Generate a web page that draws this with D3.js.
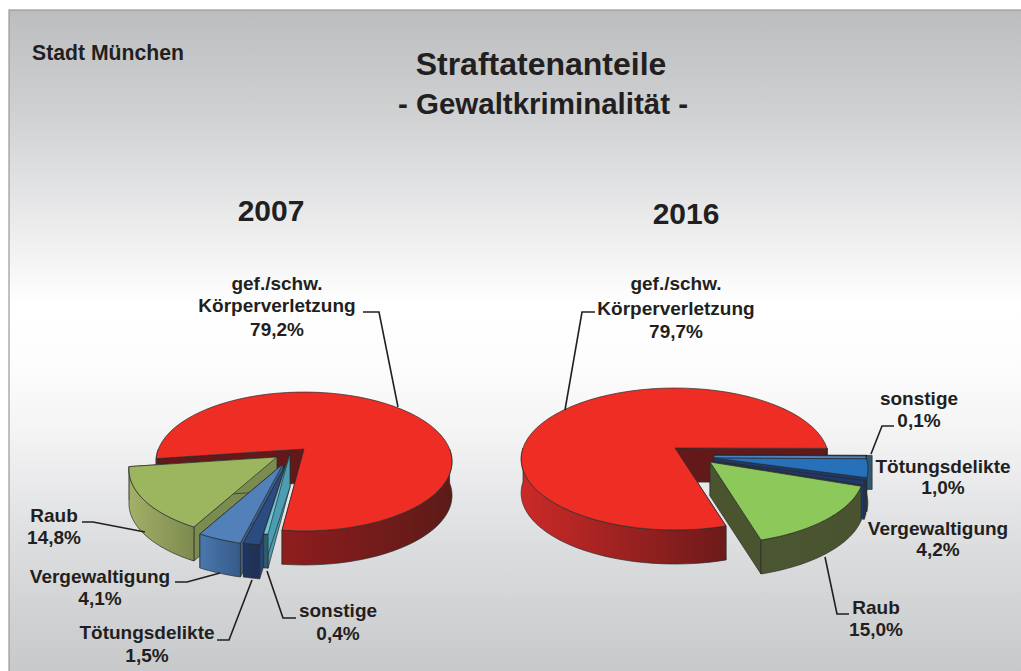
<!DOCTYPE html>
<html>
<head>
<meta charset="utf-8">
<script src="https://d3js.org/d3.v7.min.js"></script>
<style>
  html, body { margin: 0; padding: 0; background: #fff; }
  text { font-family: "Liberation Sans", Arial, sans-serif; font-weight: bold; fill: #231f20; text-anchor: middle; }
</style>
</head>
<body>
<div id="chart"></div>
<script>
// values
var categories2007 = ['koerper', 'sonstige', 'toetung', 'vergewaltigung', 'raub'];
var values2007 = [79.2, 0.4, 1.5, 4.1, 14.8];
var categories2016 = ['koerper', 'sonstige', 'vergewaltigung', 'toetung', 'raub'];
var values2016 = [79.7, 0.1, 4.2, 1.0, 15.0];

var labelNames = {
    koerper: ['gef./schw.', 'Körperverletzung'],
    sonstige: ['sonstige'],
    toetung: ['Tötungsdelikte'],
    vergewaltigung: ['Vergewaltigung'],
    raub: ['Raub']
};

var width = 1021;
var height = 671;
var de = d3.formatLocale({ decimal: ',', thousands: '.', grouping: [3], currency: ['', '€'] });
var pct = de.format('.1f');

// pie geometry + look, one per year
var pies = [
    {
        year: '2007', yearX: 271, yearY: 221, yearSize: 30,
        categories: categories2007, values: values2007,
        cx: 304, cy: 449, rx: 145.6, ry: 67.2, tilt: 0.18, depth: 34, start: 262,
        offset: { koerper: [0, 0], sonstige: [-14, 4], toetung: [-18, 15], vergewaltigung: [-21, 15], raub: [-27, 8] },
        top: { koerper: '#ee2e24', sonstige: '#6ec6d8', toetung: '#2b4c80', vergewaltigung: '#5280b8', raub: '#9bb65e' },
        wall: {
            koerper: ['#8f1d1e', '#5c1b18'], sonstige: ['#2f5d70', '#2f5d70'], toetung: ['#22355c', '#1f3156'],
            vergewaltigung: ['#4a78ae', '#355a88'], raub: ['#a3b067', '#7c8a50']
        },
        side: { koerper: '#63191a', sonstige: '#4a9db3', toetung: '#2a4473', vergewaltigung: '#3b5f90', raub: '#7b8c50' },
        labels: {
            koerper: [277, [290, 312, 336]], sonstige: [338, [617, 640]], toetung: [147, [639, 662]],
            vergewaltigung: [100, [583, 605]], raub: [54, [522, 544]]
        },
        leaders: [
            [[363, 312], [379, 312], [398, 407]],
            [[82, 522], [93, 522], [145, 532]],
            [[175, 582], [187, 582], [220, 573]],
            [[217, 640], [229, 640], [252, 580]],
            [[296, 618], [283, 618], [267, 571]]
        ]
    },
    {
        year: '2016', yearX: 686, yearY: 224, yearSize: 30,
        categories: categories2016, values: values2016,
        cx: 675, cy: 448, rx: 152, ry: 69.3, tilt: 0.155, depth: 34, start: 163.4,
        offset: { koerper: [0, 0], sonstige: [39, 7], vergewaltigung: [39, 10], toetung: [38, 13], raub: [35, 14] },
        top: { koerper: '#ee2e24', sonstige: '#4f81c0', toetung: '#1d3a6b', vergewaltigung: '#2771ba', raub: '#8dc85a' },
        wall: {
            koerper: ['#cb2a27', '#6d1a1a'], sonstige: ['#2c5a74', '#2c5a74'], toetung: ['#1f3c72', '#1f3c72'],
            vergewaltigung: ['#2c5a74', '#2c5a74'], raub: ['#4b5632', '#49532f']
        },
        side: { koerper: '#63191a', sonstige: '#4f81c0', toetung: '#1d3a6b', vergewaltigung: '#1d3a6b', raub: '#4a5530' },
        rim: { sonstige: 6 },
        labels: {
            koerper: [676, [290, 315, 338]], sonstige: [919, [405, 427]], toetung: [943, [473, 494]],
            vergewaltigung: [938, [535, 556]], raub: [876, [614, 636]]
        },
        leaders: [
            [[595, 312], [582, 312], [565, 410]],
            [[894, 426], [882, 426], [871, 454]],
            [[849, 614], [837, 614], [825, 557]]
        ]
    }
];

var svg = d3.select('#chart').append('svg')
    .attr('width', width)
    .attr('height', height)
    .style('display', 'block');

var defs = svg.append('defs');
var bg = defs.append('linearGradient')
    .attr('id', 'bg')
    .attr('x1', 0).attr('y1', 0).attr('x2', 0).attr('y2', 1);
bg.selectAll('stop')
    .data([[0, '#bcbdbf'], [0.15, '#cfd0d2'], [0.44, '#ffffff'], [0.52, '#fdfdfd'], [0.62, '#f5f5f6'], [0.8, '#dcdddf'], [1, '#c6c7c9']])
    .join('stop')
    .attr('offset', d => d[0])
    .attr('stop-color', d => d[1]);

svg.append('rect')
    .attr('x', 9).attr('y', 10)
    .attr('width', width).attr('height', height)
    .attr('fill', 'url(#bg)')
    .attr('stroke', '#97989a')
    .attr('stroke-width', 1.2);

svg.append('text').attr('x', 108).attr('y', 60).style('font-size', '21.2px').text('Stadt München');
svg.append('text').attr('x', 541).attr('y', 75).style('font-size', '32px').text('Straftatenanteile');
svg.append('text').attr('x', 543).attr('y', 114).style('font-size', '29.5px').text('- Gewaltkriminalität -');

var line = d3.line();
var rad = Math.PI / 180;

// visible (front facing) part of the rim between two angles, in degrees
function frontRanges(a0, a1) {
    var out = [];
    for (var k = -1; k < 3; k++) {
        var lo = Math.max(a0, 90 + 360 * k);
        var hi = Math.min(a1, 270 + 360 * k);
        if (hi > lo) out.push([lo, hi]);
    }
    return out;
}

pies.forEach(function(p, pi) {
    var g = svg.append('g').attr('class', 'pie' + p.year);

    var x = d3.scaleLinear().domain([-1, 1]).range([p.cx - p.rx, p.cx + p.rx]);
    var y = d3.scaleLinear().domain([-1, 1]).range([p.cy - p.ry, p.cy + p.ry]);

    // disc point (r, angle clockwise from the back) -> screen, with a bit of perspective
    function project(r, deg) {
        var sx = r * Math.sin(deg * rad);
        var sz = -r * Math.cos(deg * rad);
        var w = 1 - p.tilt * sz;
        return [x(sx / w), y(sz / w)];
    }

    var slices = d3.pie()
        .sort(null)
        .startAngle(p.start * rad)
        .endAngle((p.start + 360) * rad)(p.values);

    slices.forEach(function(s, i) { s.key = p.categories[i]; });

    // red slice first, the rest from back to front
    var drawOrder = slices.slice(1).sort((a, b) => {
        var ma = (a.startAngle + a.endAngle) / 2;
        var mb = (b.startAngle + b.endAngle) / 2;
        return d3.descending(Math.cos(ma), Math.cos(mb));
    });
    drawOrder.unshift(slices[0]);

    drawOrder.forEach(function(s) {
        var key = s.key;
        var a0 = s.startAngle / rad;
        var a1 = s.endAngle / rad;
        var off = p.offset[key];
        var pt = (r, a, down) => {
            var q = project(r, a);
            return [q[0] + off[0], q[1] + off[1] + (down ? p.depth : 0)];
        };
        var edge = d3.range(0, 61).map(t => a0 + (a1 - a0) * t / 60);
        var face = g.append('g').attr('class', key);
        var outline = { stroke: '#2b2b2b', width: 0.7 };

        var gradId = 'wall' + pi + '-' + key;
        var grad = defs.append('linearGradient').attr('id', gradId);
        grad.append('stop').attr('offset', 0).attr('stop-color', p.wall[key][0]);
        grad.append('stop').attr('offset', 1).attr('stop-color', p.wall[key][1]);

        // rim box for the very thin slice
        if (p.rim && p.rim[key]) {
            var c = pt(1, a0);
            face.append('path')
                .attr('d', line([c, [c[0] + p.rim[key], c[1]], [c[0] + p.rim[key], c[1] + p.depth], [c[0], c[1] + p.depth]]) + 'Z')
                .attr('fill', p.wall[key][0])
                .attr('stroke', outline.stroke).attr('stroke-width', outline.width);
        }

        // the two cut faces
        [a0, a1].forEach(function(a) {
            face.append('path')
                .attr('d', line([pt(0, a), pt(1, a), pt(1, a, true), pt(0, a, true)]) + 'Z')
                .attr('fill', p.side[key])
                .attr('stroke', outline.stroke).attr('stroke-width', outline.width);
        });

        // outer rim
        frontRanges(a0, a1).forEach(function(r) {
            var as = d3.range(0, 41).map(t => r[0] + (r[1] - r[0]) * t / 40);
            var topEdge = as.map(a => pt(1, a));
            var lowEdge = as.slice().reverse().map(a => pt(1, a, true));
            face.append('path')
                .attr('d', line(topEdge.concat(lowEdge)) + 'Z')
                .attr('fill', 'url(#' + gradId + ')')
                .attr('stroke', outline.stroke).attr('stroke-width', outline.width);
        });

        // top
        face.append('path')
            .attr('d', line([pt(0, a0)].concat(edge.map(a => pt(1, a)))) + 'Z')
            .attr('fill', p.top[key])
            .attr('stroke', outline.stroke).attr('stroke-width', outline.width);
    });

    // leader lines
    g.selectAll('.leader')
        .data(p.leaders)
        .join('path')
        .attr('class', 'leader')
        .attr('d', d => line(d))
        .attr('fill', 'none')
        .attr('stroke', '#231f20')
        .attr('stroke-width', 1.6);

    // labels
    p.categories.forEach(function(key, i) {
        var l = p.labels[key];
        var rows = labelNames[key].concat([pct(p.values[i]) + '%']);
        rows.forEach(function(row, j) {
            g.append('text')
                .attr('x', l[0])
                .attr('y', l[1][j])
                .style('font-size', '19px')
                .text(row);
        });
    });

    svg.append('text')
        .attr('x', p.yearX).attr('y', p.yearY)
        .style('font-size', p.yearSize + 'px')
        .text(p.year);
});
</script>
</body>
</html>
